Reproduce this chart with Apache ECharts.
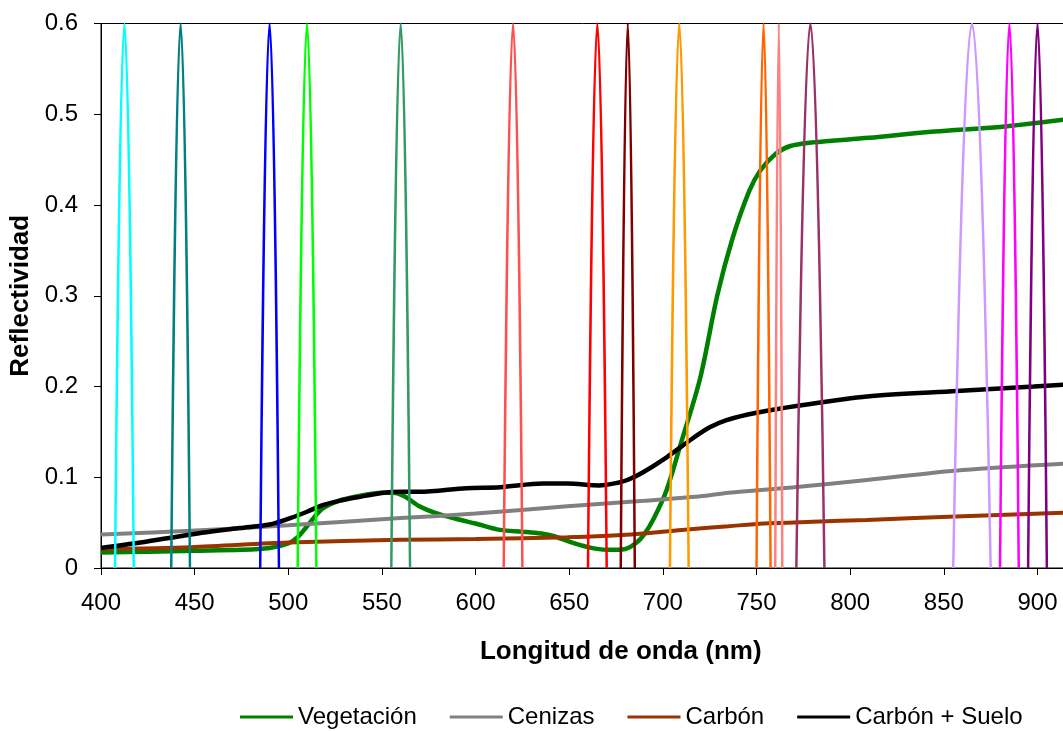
<!DOCTYPE html>
<html>
<head>
<meta charset="utf-8">
<script src="https://cdn.jsdelivr.net/npm/echarts@6/dist/echarts.min.js"></script>
<style>html,body{margin:0;padding:0;background:#fff}#c{width:1063px;height:731px}</style>
</head>
<body>
<div id="c"></div>
<script>
// ---- data ----
const seriesNames = ['Vegetación', 'Cenizas', 'Carbón', 'Carbón + Suelo'];
const seriesColors = ['#008000', '#808080', '#993300', '#000000'];

const vegetacion = [[400,0.017],[425,0.018],[450,0.019],[475,0.020],[490,0.022],[500,0.027],[505,0.034],[510,0.046],[518,0.065],[527,0.074],[537,0.079],[550,0.083],[556,0.083],[562,0.079],[570,0.068],[578,0.061],[590,0.054],[600,0.049],[613,0.042],[625,0.040],[635,0.038],[642,0.035],[650,0.029],[660,0.023],[670,0.020],[680,0.021],[686,0.028],[690,0.037],[695,0.054],[702,0.086],[710,0.140],[720,0.210],[729,0.300],[737,0.362],[746,0.415],[752,0.438],[760,0.456],[768,0.465],[780,0.469],[810,0.474],[845,0.481],[880,0.486],[914,0.494]];
const cenizas = [[400,0.037],[448,0.041],[500,0.047],[560,0.055],[600,0.060],[649,0.068],[690,0.074],[720,0.079],[735,0.083],[770,0.089],[809,0.097],[860,0.108],[914,0.115]];
const carbon = [[400,0.021],[448,0.023],[500,0.028],[560,0.031],[600,0.032],[649,0.034],[683,0.037],[710,0.042],[735,0.046],[754,0.049],[780,0.051],[809,0.053],[860,0.057],[914,0.061]];
const carbonSuelo = [[400,0.022],[421,0.028],[448,0.037],[474,0.044],[490,0.048],[501,0.055],[510,0.062],[518,0.069],[527,0.074],[537,0.078],[551,0.083],[560,0.084],[570,0.084],[595,0.088],[613,0.089],[636,0.093],[649,0.093],[666,0.091],[676,0.094],[681,0.097],[689,0.105],[702,0.122],[716,0.143],[725,0.155],[734,0.163],[750,0.171],[773,0.179],[809,0.189],[857,0.195],[898,0.200],[914,0.202]];

// spectral bands (centre nm, width nm at base, colour)
const bandCenters = [412.5, 442.5, 490, 510, 560, 620, 665, 681.25, 708.75, 753.75, 761.875, 778.75, 865, 885, 900];
const bandWidths  = [10, 10, 10, 10, 10, 10, 10, 7.5, 10, 7.5, 3.75, 15, 20, 10, 10];
const bandColors  = ['#00FFFF','#008080','#0000FF','#00FF00','#339966','#FF5050','#FF0000','#800000','#FF9900','#FF6600','#FF8080','#993366','#CC99FF','#FF00FF','#800080'];
const bandPeak = 0.6;

const xTicks = {min: 400, max: 955, interval: 50};
const yTicks = {min: 0, max: 0.6, interval: 0.1};

// ---- chart ----
const font = 'Liberation Sans, Arial, sans-serif';
const chart = echarts.init(document.getElementById('c'), null, {renderer: 'canvas'});
const curveData = [vegetacion, cenizas, carbon, carbonSuelo];
const curveWidths = [4.5, 4, 4, 4.5];

const series = [];
curveData.forEach((d, i) => {
  series.push({
    name: seriesNames[i], type: 'line', data: d, smooth: 0.3,
    symbol: 'none', showSymbol: false, color: seriesColors[i],
    lineStyle: {width: curveWidths[i], color: seriesColors[i]}, z: 2, silent: true
  });
});
bandCenters.forEach((c, i) => {
  const h = bandWidths[i] / 2;
  series.push({
    name: 'band' + i, type: 'line',
    data: [[c - h, 0], [c, bandPeak], [c + h, 0]],
    smooth: 0.5, symbol: 'none', showSymbol: false,
    lineStyle: {width: 2.5, color: bandColors[i]}, z: 3, silent: true
  });
});

chart.setOption({
  animation: false,
  backgroundColor: '#ffffff',
  grid: {left: 101, top: 23.5, height: 544.5, width: 1039.5, containLabel: false, outerBoundsMode: 'none',
         show: true, borderColor: '#000', borderWidth: 1},
  xAxis: {
    type: 'value', min: xTicks.min, max: xTicks.max, interval: xTicks.interval,
    name: 'Longitud de onda (nm)', nameLocation: 'middle', nameGap: 71,
    nameTextStyle: {fontFamily: font, fontSize: 26, fontWeight: 'bold', color: '#000'},
    axisLine: {show: true, lineStyle: {color: '#000', width: 1}},
    axisTick: {show: true, inside: false, length: 7, lineStyle: {color: '#000'}},
    axisLabel: {fontFamily: font, fontSize: 24, color: '#000', margin: 23, showMaxLabel: false},
    splitLine: {show: false}
  },
  yAxis: {
    type: 'value', min: yTicks.min, max: yTicks.max, interval: yTicks.interval,
    name: 'Reflectividad', nameLocation: 'middle', nameGap: 64, nameRotate: 90,
    nameTextStyle: {fontFamily: font, fontSize: 26, fontWeight: 'bold', color: '#000'},
    axisLine: {show: true, lineStyle: {color: '#000', width: 1}},
    axisTick: {show: true, inside: false, length: 7, lineStyle: {color: '#000'}},
    axisLabel: {fontFamily: font, fontSize: 24, color: '#000', margin: 23},
    splitLine: {show: false}
  },
  legend: {
    data: seriesNames, left: 235, top: 700, icon: 'rect',
    itemWidth: 53, itemHeight: 3, itemGap: 33,
    textStyle: {fontFamily: font, fontSize: 24, color: '#000'}
  },
  series: series
});
</script>
</body>
</html>
